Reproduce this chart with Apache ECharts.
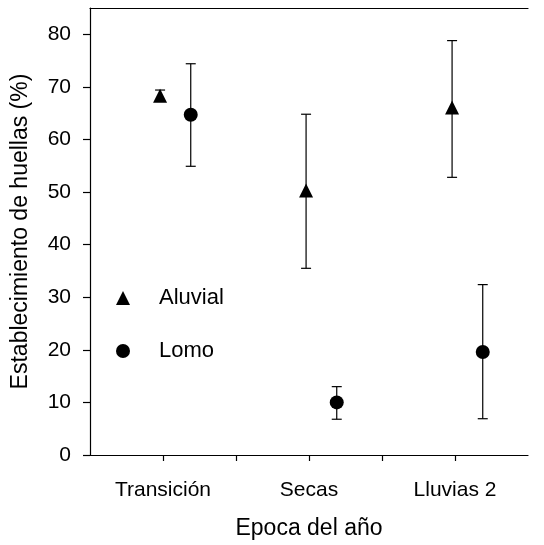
<!DOCTYPE html>
<html>
<head>
<meta charset="utf-8">
<script src="https://cdn.jsdelivr.net/npm/echarts@6/dist/echarts.min.js"></script>
<style>html,body{margin:0;padding:0;background:#fff;}#c{width:544px;height:545px;}</style>
</head>
<body>
<div id="c"></div>
<script>
const categories = ['Transición', 'Secas', 'Lluvias 2'];
const aluvialMean = [68.3, 50.3, 66.1];
const aluvialLow  = [67.3, 35.5, 52.8];
const aluvialHigh = [69.4, 64.8, 78.8];
const lomoMean = [64.7, 10.0, 19.6];
const lomoLow  = [54.9, 6.8, 6.9];
const lomoHigh = [74.4, 13.0, 32.4];
const yTicks = [0, 10, 20, 30, 40, 50, 60, 70, 80];
const xTickValues = [1, 1.5, 2, 2.5, 3];
const xLabelValues = [1, 2, 3];

// style: horizontal offsets of each series from the category center
const aluvialOffset = -0.02;
const lomoOffset = 0.19;

const font = '"Liberation Sans", Arial, sans-serif';

function pts(mean, offset) {
  return mean.map((v, i) => [i + 1 + offset, v]);
}
function errs(low, high, offset) {
  return low.map((l, i) => [i + 1 + offset, l, high[i]]);
}
function errRender(params, api) {
  const x = api.value(0);
  const lo = api.coord([x, api.value(1)]);
  const hi = api.coord([x, api.value(2)]);
  const hw = 5;
  const st = { stroke: '#000', lineWidth: 1.2 };
  return {
    type: 'group',
    children: [
      { type: 'line', shape: { x1: lo[0], y1: lo[1], x2: hi[0], y2: hi[1] }, style: st },
      { type: 'line', shape: { x1: lo[0] - hw, y1: lo[1], x2: lo[0] + hw, y2: lo[1] }, style: st },
      { type: 'line', shape: { x1: hi[0] - hw, y1: hi[1], x2: hi[0] + hw, y2: hi[1] }, style: st }
    ]
  };
}

const chart = echarts.init(document.getElementById('c'), null, { renderer: 'canvas' });
chart.setOption({
  animation: false,
  backgroundColor: '#fff',
  grid: { left: 90, right: 16, top: 8, bottom: 89, containLabel: false },
  legend: {
    orient: 'vertical',
    left: 111,
    top: 282,
    itemWidth: 14,
    itemHeight: 14,
    itemGap: 31,
    textStyle: { fontFamily: font, fontSize: 22, color: '#000', padding: [0, 0, 0, 24] },
    data: [
      { name: 'Aluvial', icon: 'triangle', itemStyle: { color: '#000', opacity: 1 } },
      { name: 'Lomo', icon: 'circle', itemStyle: { color: '#000', opacity: 1 } }
    ]
  },
  xAxis: [
    {
      type: 'value',
      min: 0.5,
      max: 3.5,
      interval: 0.5,
      splitLine: { show: false },
      axisLine: { show: true, onZero: false, lineStyle: { color: '#000', width: 1.2 } },
      axisTick: { show: true, length: 6, lineStyle: { color: '#000', width: 1.2 }, customValues: xTickValues },
      axisLabel: {
        customValues: xLabelValues,
        formatter: v => categories[Math.round(v) - 1] || '',
        color: '#000', fontFamily: font, fontSize: 21, margin: 25
      },
      name: 'Epoca del año',
      nameLocation: 'middle',
      nameGap: 62,
      nameTextStyle: { fontFamily: font, fontSize: 23, color: '#000' }
    },
    {
      type: 'value',
      position: 'top',
      min: 0.5,
      max: 3.5,
      splitLine: { show: false },
      axisLine: { show: true, onZero: false, lineStyle: { color: '#000', width: 1.2 } },
      axisTick: { show: false },
      axisLabel: { show: false }
    }
  ],
  yAxis: {
    type: 'value',
    min: 0,
    max: 85,
    interval: 10,
    splitLine: { show: false },
    axisLine: { show: true, lineStyle: { color: '#000', width: 1.2 } },
    axisTick: { show: true, length: 7, lineStyle: { color: '#000', width: 1.2 }, customValues: yTicks },
    axisLabel: { customValues: yTicks, color: '#000', fontFamily: font, fontSize: 21, margin: 19 },
    name: 'Establecimiento de huellas (%)',
    nameLocation: 'middle',
    nameGap: 58,
    nameTextStyle: { fontFamily: font, fontSize: 23, color: '#000' }
  },
  series: [
    {
      name: 'Aluvial-err', type: 'custom', renderItem: errRender,
      data: errs(aluvialLow, aluvialHigh, aluvialOffset), z: 1
    },
    {
      name: 'Lomo-err', type: 'custom', renderItem: errRender,
      data: errs(lomoLow, lomoHigh, lomoOffset), z: 1
    },
    {
      name: 'Aluvial', type: 'scatter', symbol: 'triangle', symbolSize: 14,
      itemStyle: { color: '#000', opacity: 1 }, data: pts(aluvialMean, aluvialOffset), z: 3
    },
    {
      name: 'Lomo', type: 'scatter', symbol: 'circle', symbolSize: 14,
      itemStyle: { color: '#000', opacity: 1 }, data: pts(lomoMean, lomoOffset), z: 3
    }
  ]
});
</script>
</body>
</html>
